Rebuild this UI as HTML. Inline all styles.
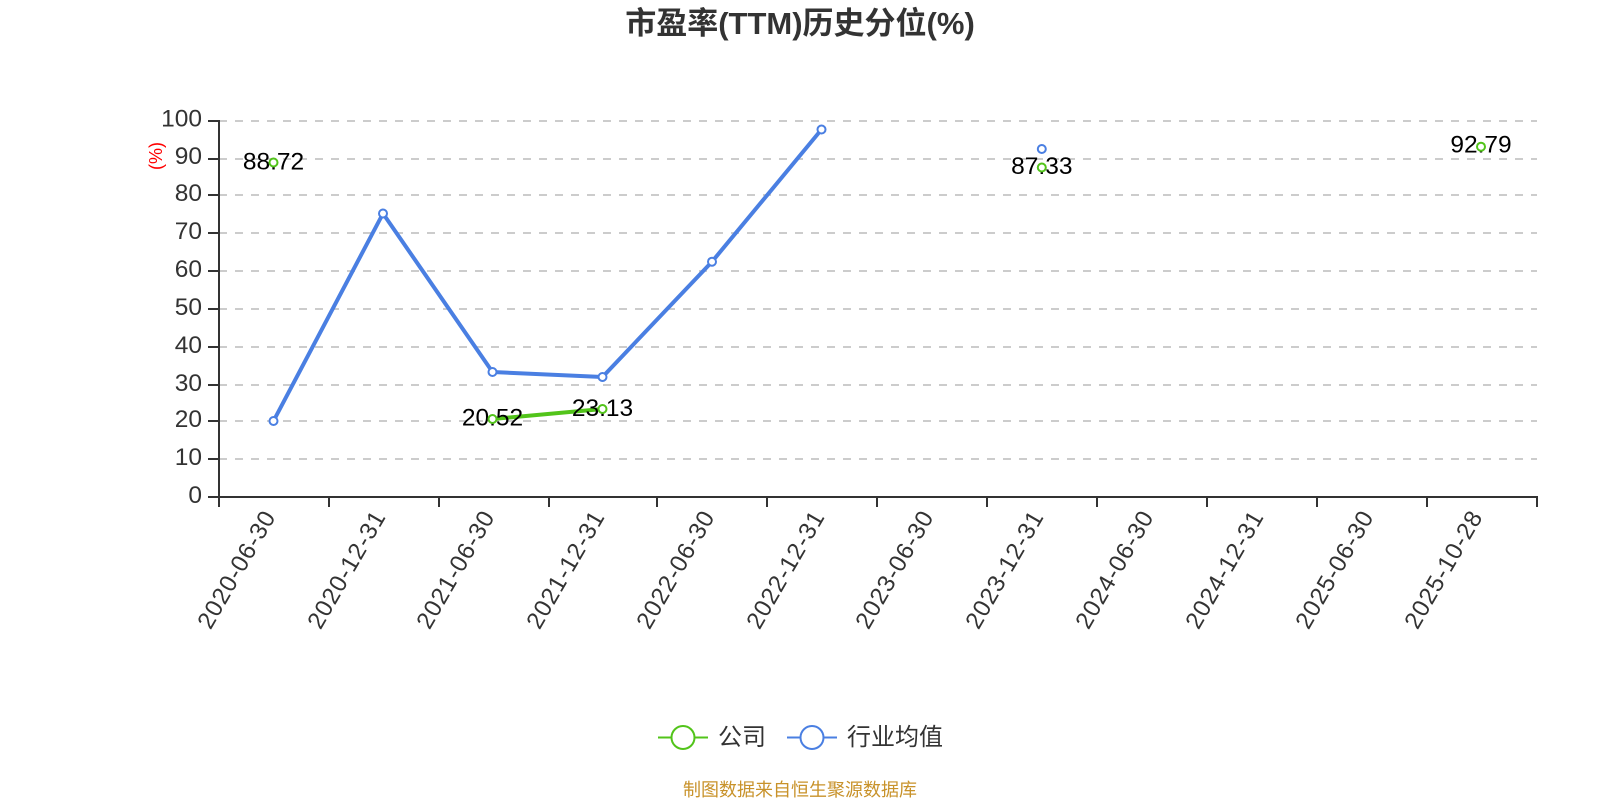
<!DOCTYPE html>
<html><head><meta charset="utf-8"><style>
html,body{margin:0;padding:0;background:#fff;width:1600px;height:800px;overflow:hidden}
svg{display:block}
text{font-family:"Liberation Sans","Noto Sans CJK SC",sans-serif}
</style></head><body>
<svg width="1600" height="800" viewBox="0 0 1600 800" xmlns="http://www.w3.org/2000/svg">
<text x="800" y="34" text-anchor="middle" font-size="31" font-weight="bold" fill="#333">市盈率(TTM)历史分位(%)</text>
<g stroke="#ccc" stroke-width="2" stroke-dasharray="8 8" fill="none">
<path d="M219 121H1537M219 159H1537M219 195H1537M219 233H1537M219 271H1537M219 309H1537M219 347H1537M219 385H1537M219 421H1537M219 459H1537"/>
</g>
<g stroke="#333" stroke-width="2" fill="none">
<path d="M219 120V497M208 121H219M208 159H219M208 195H219M208 233H219M208 271H219M208 309H219M208 347H219M208 385H219M208 421H219M208 459H219M208 497H219"/>
<path d="M208 497H1538M219 497V507M329 497V507M439 497V507M549 497V507M657 497V507M767 497V507M877 497V507M987 497V507M1097 497V507M1207 497V507M1317 497V507M1427 497V507M1537 497V507"/>
</g>
<g font-size="24.5" fill="#333" text-anchor="end">
<text x="202" y="126.5">100</text><text x="202" y="164">90</text><text x="202" y="201">80</text><text x="202" y="239">70</text><text x="202" y="277">60</text><text x="202" y="315">50</text><text x="202" y="353">40</text><text x="202" y="391">30</text><text x="202" y="427">20</text><text x="202" y="465">10</text><text x="202" y="503">0</text>
</g>
<text transform="translate(162 156) rotate(-90)" font-size="18" fill="#f00" text-anchor="middle">(%)</text>
<g font-size="24" fill="#333" text-anchor="end">
<text transform="translate(276 517) rotate(-60)" textLength="131">2020-06-30</text>
<text transform="translate(386 517) rotate(-60)" textLength="131">2020-12-31</text>
<text transform="translate(495 517) rotate(-60)" textLength="131">2021-06-30</text>
<text transform="translate(605 517) rotate(-60)" textLength="131">2021-12-31</text>
<text transform="translate(715 517) rotate(-60)" textLength="131">2022-06-30</text>
<text transform="translate(825 517) rotate(-60)" textLength="131">2022-12-31</text>
<text transform="translate(934 517) rotate(-60)" textLength="131">2023-06-30</text>
<text transform="translate(1044 517) rotate(-60)" textLength="131">2023-12-31</text>
<text transform="translate(1154 517) rotate(-60)" textLength="131">2024-06-30</text>
<text transform="translate(1264 517) rotate(-60)" textLength="131">2024-12-31</text>
<text transform="translate(1374 517) rotate(-60)" textLength="131">2025-06-30</text>
<text transform="translate(1483 517) rotate(-60)" textLength="131">2025-10-28</text>
</g>
<polyline points="273.5,421 383,213.5 492.5,372 602.5,377 712,261.7 821.5,129.5" fill="none" stroke="#4a7fe2" stroke-width="4" stroke-linejoin="round"/>
<line x1="492.5" y1="419" x2="602.5" y2="409" stroke="#52c41a" stroke-width="4"/>
<g font-size="24.5" fill="#000" text-anchor="middle">
<text x="273.5" y="169.5">88.72</text><text x="492.5" y="425.5">20.52</text><text x="602.5" y="416">23.13</text><text x="1041.8" y="174">87.33</text><text x="1481" y="152.5">92.79</text>
</g>
<g fill="#fff" stroke="#4a7fe2" stroke-width="2">
<circle cx="273.5" cy="421" r="4"/><circle cx="383" cy="213.5" r="4"/><circle cx="492.5" cy="372" r="4"/><circle cx="602.5" cy="377" r="4"/><circle cx="712" cy="261.7" r="4"/><circle cx="821.5" cy="129.5" r="4"/><circle cx="1041.8" cy="149" r="4"/>
</g>
<g fill="#fff" stroke="#52c41a" stroke-width="2">
<circle cx="273.5" cy="162.5" r="4"/><circle cx="492.5" cy="419" r="4"/><circle cx="602.5" cy="409" r="4"/><circle cx="1041.8" cy="167.5" r="4"/><circle cx="1481" cy="146.7" r="4"/>
</g>
<line x1="658" y1="737.5" x2="708" y2="737.5" stroke="#52c41a" stroke-width="2"/>
<circle cx="683" cy="737.5" r="11.5" fill="#fff" stroke="#52c41a" stroke-width="2"/>
<line x1="787" y1="737.5" x2="837" y2="737.5" stroke="#4a7fe2" stroke-width="2"/>
<circle cx="812" cy="737.5" r="11.5" fill="#fff" stroke="#4a7fe2" stroke-width="2"/>
<g font-size="24" fill="#333">
<text x="718" y="745">公司</text><text x="847" y="745">行业均值</text>
</g>
<text x="800" y="796" text-anchor="middle" font-size="18" fill="#c8922a">制图数据来自恒生聚源数据库</text>
</svg>
</body></html>
